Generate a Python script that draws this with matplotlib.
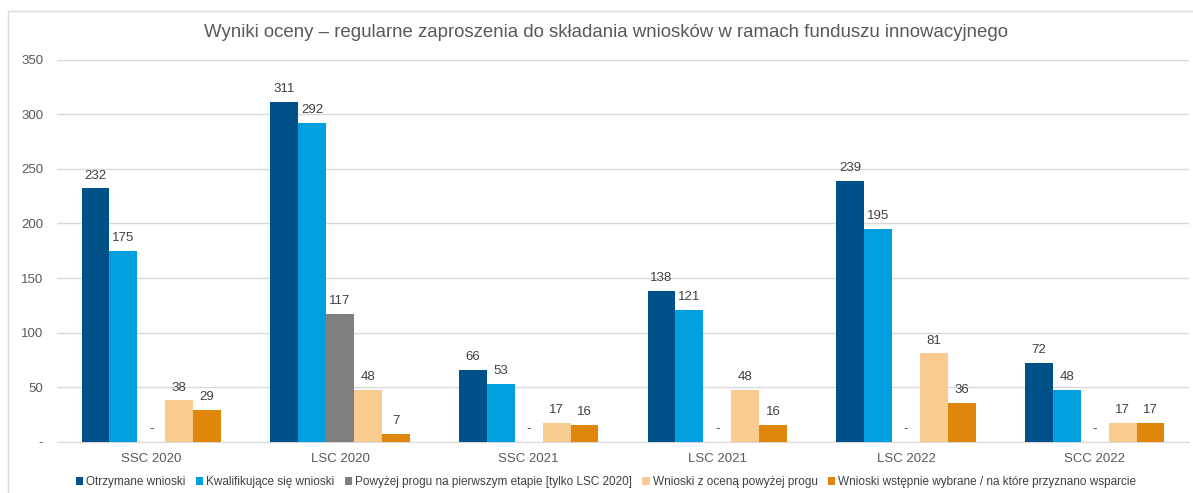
import numpy as np
import matplotlib.pyplot as plt
from matplotlib.patches import Rectangle

plt.rcParams['font.family'] = ['Liberation Sans', 'DejaVu Sans']

categories = ['SSC 2020', 'LSC 2020', 'SSC 2021', 'LSC 2021', 'LSC 2022', 'SCC 2022']
series_names = [
    'Otrzymane wnioski',
    'Kwalifikujące się wnioski',
    'Powyżej progu na pierwszym etapie [tylko LSC 2020]',
    'Wnioski z oceną powyżej progu',
    'Wnioski wstępnie wybrane / na które przyznano wsparcie',
]
otrzymane = [232, 311, 66, 138, 239, 72]
kwalifikujace = [175, 292, 53, 121, 195, 48]
powyzej_progu_1 = [0, 117, 0, 0, 0, 0]
z_ocena = [38, 48, 17, 48, 81, 17]
wybrane = [29, 7, 16, 16, 36, 17]
series_values = [otrzymane, kwalifikujace, powyzej_progu_1, z_ocena, wybrane]
colors = ['#00508A', '#00A0E0', '#7F7F7F', '#F8CB8E', '#E0860B']
y_ticks = [0, 50, 100, 150, 200, 250, 300, 350]

fig = plt.figure(figsize=(11.93, 4.93), dpi=100)
# ramka wykresu (jak w Excelu)
fig.patches.append(Rectangle((8 / 1193, -0.1), 1.2, 1 - 11 / 493 + 0.1,
                             transform=fig.transFigure, fill=False,
                             edgecolor='#D9D9D9', linewidth=1))

ax = fig.add_axes([57 / 1193, 51 / 493, 1132 / 1193, (442 - 59.5) / 493])

x = np.arange(len(categories))
w = 0.148
for i, (name, vals, c) in enumerate(zip(series_names, series_values, colors)):
    pos = x + (i - 2) * w
    ax.bar(pos, vals, width=w, color=c, label=name, zorder=3)
    for px, v in zip(pos, vals):
        txt = str(v) if v > 0 else '-'
        ax.annotate(txt, (px, v), xytext=(0, 5), textcoords='offset points',
                    ha='center', va='bottom', fontsize=9.5, color='#404040')

ax.set_xlim(-0.5, len(categories) - 0.5)
ax.set_ylim(0, 350)
ax.set_yticks(y_ticks)
ax.set_yticklabels(['-' if t == 0 else str(t) for t in y_ticks])
ax.set_xticks(x)
ax.set_xticklabels(categories)
ax.tick_params(axis='both', length=0, labelsize=9.5, colors='#595959')
ax.tick_params(axis='y', pad=10)
ax.tick_params(axis='x', pad=8)

ax.grid(axis='y', color='#D9D9D9', linewidth=1, zorder=0)
for s in ['top', 'right', 'left']:
    ax.spines[s].set_visible(False)
ax.spines['bottom'].set_color('#D9D9D9')

fig.text(0.508, 0.935, 'Wyniki oceny \u2013 regularne zaproszenia do składania wniosków w ramach funduszu innowacyjnego',
         ha='center', va='center', fontsize=13.4, color='#595959')

fig.legend(loc='center', bbox_to_anchor=(0.508, 0.022), ncol=5, frameon=False,
           fontsize=8.5, handlelength=0.6, handleheight=0.6, handletextpad=0.25,
           columnspacing=0.9, labelcolor='#404040')

fig.savefig('out.png', dpi=100)
